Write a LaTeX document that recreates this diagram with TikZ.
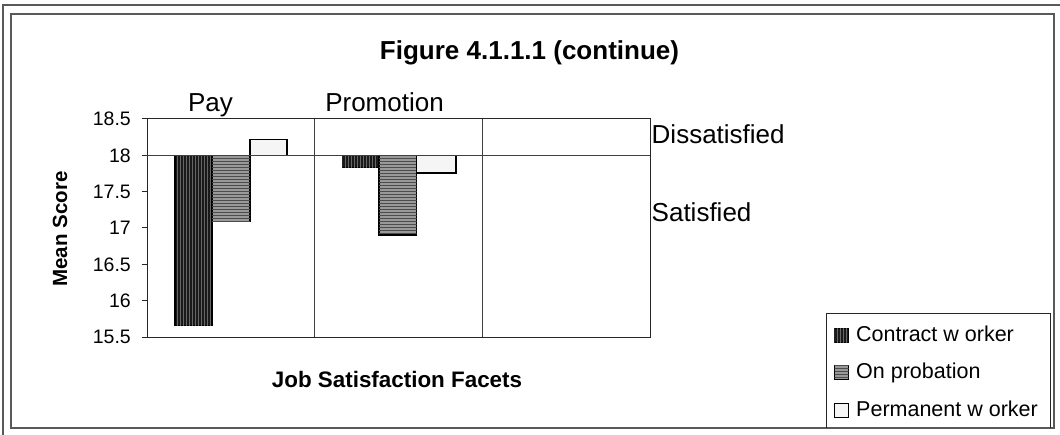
\documentclass[tikz,border=0pt]{standalone}
\usepackage{fontspec}
\setmainfont{Liberation Sans}
\usetikzlibrary{patterns,positioning}
\begin{document}
\begin{tikzpicture}[x=1pt, y=-1pt]
    \tikzstyle{frame} = [draw=black!65, line width=1.4pt]
    \tikzstyle{axis} = [draw=black!85, line width=1pt]
    \tikzstyle{grid} = [draw=black!75, line width=0.9pt]
    \tikzstyle{contract} = [draw=black, line width=1.6pt, fill=black!90, postaction={pattern=vertical lines, pattern color=black!60}]
    \tikzstyle{probation} = [draw=black, line width=1.6pt, fill=black!40, postaction={pattern=horizontal lines, pattern color=black!70}]
    \tikzstyle{permanent} = [draw=black, line width=1.6pt, fill=black!4]
    \tikzstyle{swatch} = [minimum size=14pt, inner sep=0pt, line width=1.3pt]
    \tikzstyle{ticklabel} = [font=\fontsize{19.5}{22}\selectfont, anchor=east, inner sep=0pt]
    \tikzstyle{catlabel} = [font=\fontsize{26}{30}\selectfont, inner sep=0pt]
    \tikzstyle{legtext} = [font=\fontsize{21.5}{25}\selectfont, anchor=base west, inner sep=0pt]

    \useasboundingbox (0,0) rectangle (1060,435);
    \fill[white] (0,0) rectangle (1060,435);

    % frames
    \draw[frame] (3,5) rectangle (1066,442);
    \draw[frame] (11,14) rectangle (1054,428);

    \node (title) [anchor=base, inner sep=0pt, font=\fontsize{26}{30}\selectfont\bfseries] at (529.5,60) {Figure 4.1.1.1 (continue)};

    % plot area, y in mean score units
    \begin{scope}[yshift=-1463.39pt, y=72.67pt]
        \draw[grid] (314.7,15.5) -- (314.7,18.5);
        \draw[grid] (482.3,15.5) -- (482.3,18.5);
        \draw[axis] (147,15.5) rectangle (650,18.5);
        \foreach \v [count=\i] in {15.5,16,16.5,17,17.5,18,18.5} {
            \draw[axis] (141.5,\v) -- (147,\v);
            \node (tick\i) [ticklabel] at (131,\v) {\v};
        }

        % Pay
        \draw[contract]  (175,18) rectangle (212,15.66);
        \draw[probation] (212,18) rectangle (250,17.09);
        \draw[permanent] (250,18) rectangle (287,18.22);

        % Promotion
        \draw[contract]  (342.5,18) rectangle (379,17.83);
        \draw[probation] (379,18) rectangle (416.5,16.9);
        \draw[permanent] (416.5,18) rectangle (456,17.76);

        \draw[grid] (147,18) -- (650,18);
    \end{scope}

    \node (pay) [catlabel, anchor=base] at (210.5,111.7) {Pay};
    \node (promo) [catlabel, anchor=base] at (384.5,111.7) {Promotion};
    \node (dissat) [catlabel, anchor=base west] at (651.5,143.3) {Dissatisfied};
    \node (sat) [catlabel, anchor=base west] at (651.5,221.7) {Satisfied};

    \node (ylabel) [rotate=90, inner sep=0pt, font=\fontsize{20.5}{24}\selectfont\bfseries] at (60,229) {Mean Score};
    \node (xlabel) [anchor=base, inner sep=0pt, font=\fontsize{22.4}{26}\selectfont\bfseries] at (397,388) {Job Satisfaction Facets};

    % legend
    \draw[axis] (826.7,428) -- (826.7,314) -- (1050.7,314) -- (1050.7,428);
    \node (sw1) [swatch, contract, line width=1.3pt] at (841.5,335.7) {};
    \node (sw2) [swatch, probation, line width=1.3pt] at (841.5,372.2) {};
    \node (sw3) [swatch, permanent, line width=1.3pt] at (841.5,410.7) {};
    \node (leg1) [legtext] at (856,341.7) {Contract w orker};
    \node (leg2) [legtext] at (856,378.2) {On probation};
    \node (leg3) [legtext] at (856,416.7) {Permanent w orker};
\end{tikzpicture}
\end{document}
